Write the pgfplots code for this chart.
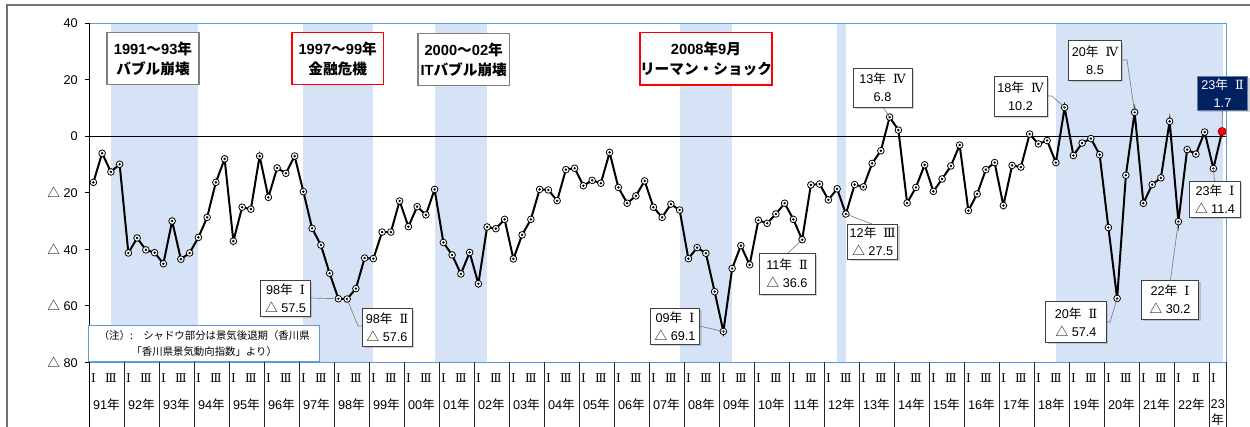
\documentclass[border=0pt]{standalone}
\usepackage{pgfplots}
\pgfplotsset{compat=1.18}
\usepackage{pgfplotstable}
\usepackage{fontspec}
\usetikzlibrary{shadows}
\setmainfont{Liberation Sans}
\newfontfamily\jp{Noto Sans CJK JP}
\newfontfamily\rn{DejaVu Serif}
\definecolor{recess}{RGB}{214,227,247}
\definecolor{pborder}{RGB}{91,155,213}
\definecolor{navy}{RGB}{0,32,96}
\definecolor{boxgray}{RGB}{128,128,128}
\newcommand{\nen}{{\jp 年}}
\newcommand{\tri}{{\jp △}}
\pgfplotstableread{
q v
0 -16.3
1 -6.0
2 -12.6
3 -9.9
4 -41.3
5 -36.0
6 -40.2
7 -41.2
8 -45.1
9 -30.0
10 -43.5
11 -41.3
12 -35.8
13 -28.7
14 -16.3
15 -8.0
16 -37.1
17 -25.1
18 -25.8
19 -7.0
20 -21.6
21 -11.2
22 -13.1
23 -7.0
24 -19.6
25 -32.6
26 -38.5
27 -48.5
28 -57.5
29 -57.6
30 -53.9
31 -43.1
32 -43.3
33 -33.9
34 -33.9
35 -22.9
36 -32.0
37 -24.9
38 -27.8
39 -18.8
40 -37.6
41 -42.0
42 -48.7
43 -41.1
44 -52.2
45 -32.1
46 -32.7
47 -29.4
48 -43.4
49 -34.9
50 -29.4
51 -18.8
52 -19.0
53 -22.8
54 -11.8
55 -11.3
56 -17.5
57 -15.6
58 -16.6
59 -5.7
60 -18.1
61 -23.7
62 -21.1
63 -15.8
64 -25.1
65 -28.7
66 -24.0
67 -26.1
68 -43.3
69 -39.4
70 -41.4
71 -55.0
72 -69.1
73 -46.8
74 -38.7
75 -45.5
76 -29.7
77 -30.8
78 -27.5
79 -23.7
80 -29.4
81 -36.6
82 -17.2
83 -16.9
84 -22.5
85 -18.6
86 -27.5
87 -17.1
88 -17.9
89 -9.6
90 -5.1
91 6.8
92 2.2
93 -23.6
94 -18.1
95 -10.1
96 -19.5
97 -15.1
98 -10.5
99 -3.1
100 -26.3
101 -20.4
102 -11.8
103 -9.3
104 -24.5
105 -10.3
106 -10.9
107 0.8
108 -2.7
109 -1.5
110 -9.3
111 10.2
112 -6.8
113 -2.4
114 -0.8
115 -6.5
116 -32.3
117 -57.4
118 -13.8
119 8.5
120 -23.7
121 -17.1
122 -14.7
123 5.3
124 -30.2
125 -4.7
126 -6.3
127 1.5
128 -11.4
129 1.7
}\ditable
\begin{document}
\begin{tikzpicture}
\useasboundingbox (-66.75pt,-48.525pt) rectangle (870.75pt,271.725pt);
\begin{axis}[
  at={(0pt,0pt)}, anchor=south west,
  scale only axis, width=853.125pt, height=254.25pt,
  xmin=-0.5, xmax=129.5, ymin=-80, ymax=40,
  axis line style={draw=none},
  xtick=\empty,
  ytick={-80,-60,-40,-20,0,20,40},
  yticklabels={\tri\ 80,\tri\ 60,\tri\ 40,\tri\ 20,0,20,40},
  ytick pos=left,
  tick align=outside,
  major tick length=3pt,
  ytick style={black, line width=0.75pt},
  yticklabel style={font=\fontsize{9.5}{11}\selectfont, anchor=east, xshift=-2pt},
  clip=false,
]
\fill[recess] (axis cs:2,-80) rectangle (axis cs:12,40);
\fill[recess] (axis cs:24,-80) rectangle (axis cs:32,40);
\fill[recess] (axis cs:39,-80) rectangle (axis cs:45,40);
\fill[recess] (axis cs:67,-80) rectangle (axis cs:73,40);
\fill[recess] (axis cs:85,-80) rectangle (axis cs:86,40);
\fill[recess] (axis cs:110,-80) rectangle (axis cs:129.1,40);
\draw[black, line width=0.75pt] (axis cs:-0.5,0) -- (axis cs:129.5,0);
\addplot[black, line width=1.5pt, mark=*, mark size=2.5pt,
  mark options={fill=white, draw=black, line width=0.6pt, solid}] table[x=q,y=v] {\ditable};
\addplot[only marks, mark=*, mark size=0.7pt, black] table[x=q,y=v] {\ditable};
\addplot[only marks, mark=*, mark size=3.1pt,
  mark options={fill=red, draw=red!60!black, line width=0.5pt}] coordinates {(129,1.7)};
\coordinate (p28) at (axis cs:28,-57.5);
\coordinate (p29) at (axis cs:29,-57.6);
\coordinate (p72) at (axis cs:72,-69.1);
\coordinate (p81) at (axis cs:81,-36.6);
\coordinate (p86) at (axis cs:86,-27.5);
\coordinate (p91) at (axis cs:91,6.8);
\coordinate (p111) at (axis cs:111,10.2);
\coordinate (p117) at (axis cs:117,-57.4);
\coordinate (p119) at (axis cs:119,8.5);
\coordinate (p124) at (axis cs:124,-30.2);
\coordinate (p128) at (axis cs:128,-11.4);
\coordinate (p129) at (axis cs:129,1.7);
\end{axis}
\begin{scope}[x=0.75pt,y=-0.75pt,shift={(-66.75pt,271.725pt)}]
% outer chart frame
\draw[black!55, line width=1pt] (7,470) -- (7,5) -- (1300,5);
% plot area border
\draw[pborder, line width=0.75pt] (89,362.3) rectangle (1226.5,23.3);
\draw[black, line width=0.75pt] (89,23.3) -- (89,427);
% category separators
\foreach \k in {1,...,32} \draw[black!85, line width=0.6pt] ({89+35*\k},362.3) -- ({89+35*\k},430);
\draw[black!85, line width=0.6pt] (1226.5,362.3) -- (1226.5,430);
% quarter labels
\foreach \k in {0,...,30} {
  \node[font=\rn\fontsize{9}{10}\selectfont] at ({89+35*\k+4.375},378) {Ⅰ};
  \node[font=\rn\fontsize{9}{10}\selectfont] at ({89+35*\k+21.875},378) {Ⅲ};
}
\node[font=\rn\fontsize{9}{10}\selectfont] at ({89+35*31+4.375},378) {Ⅰ};
\node[font=\rn\fontsize{9}{10}\selectfont] at ({89+35*31+21.875},378) {Ⅱ};
\node[font=\rn\fontsize{9}{10}\selectfont] at ({89+35*32+4.375},378) {Ⅰ};
% year labels
\foreach \yy [count=\k from 0] in {91,92,93,94,95,96,97,98,99,00,01,02,03,04,05,06,07,08,09,10,11,12,13,14,15,16,17,18,19,20,21,22}
  \node[font=\fontsize{9.5}{11}\selectfont] at ({89+35*\k+17.5},405) {\yy\nen};
\node[font=\fontsize{9.5}{11}\selectfont] at (1217.75,404) {23};
\node[font=\fontsize{9.5}{11}\selectfont] at (1217.75,420) {\nen};
% header boxes
\tikzset{hdr/.style={fill=white, line width=1.1pt, align=center, inner sep=0pt,
  font=\fontsize{11}{15}\selectfont\bfseries}}
\node[hdr, draw=boxgray, minimum width=69pt, minimum height=38.7pt] at (153,58.5)
  {1991{\jp ～}93\nen\\{\jp バブル崩壊}};
\node[hdr, draw=red, minimum width=68.5pt, minimum height=38.7pt] at (337.7,58.5)
  {1997{\jp ～}99\nen\\{\jp 金融危機}};
\node[hdr, draw=boxgray, minimum width=68.5pt, minimum height=39.3pt] at (463.7,59.5)
  {2000{\jp ～}02\nen\\IT{\jp バブル崩壊}};
\node[hdr, draw=red, minimum width=91.3pt, minimum height=39.2pt] at (706,58.8)
  {2008\nen 9{\jp 月}\\{\jp リーマン・ショック}};
% note box
\node[draw=pborder, line width=0.75pt, fill=white, minimum width=172.9pt, minimum height=27.2pt,
  inner sep=0pt, align=center, font=\jp\fontsize{7.8}{12}\selectfont] at (204.25,343.2)
  {（注）:　シャドウ部分は景気後退期（香川県\\「香川県景気動向指数」より）};
% leader lines
\tikzset{ldr/.style={gray, line width=0.5pt}}
\draw[ldr] (310,298) -- (p28);
\draw[ldr] (p29) -- (358,326) -- (362,326);
\draw[ldr] (699,326) -- (p72);
\draw[ldr] (788,253) -- (p81);
\draw[ldr] (p86) -- (872,224);
\draw[ldr] (883,107) -- (p91);
\draw[ldr] (1047,96) -- (1052,96) -- (p111);
\draw[ldr] (1121,60) -- (1127,60) -- (p119);
\draw[ldr] (1106,322) -- (1110,322) -- (p117);
\draw[ldr] (1170.5,280) -- (p124);
\draw[ldr] (1214.5,181) -- (p128);
\draw[ldr] (1222.5,110) -- (p129);
% annotation boxes
\tikzset{ann/.style={draw=black!75, line width=0.6pt, fill=white,
  drop shadow={shadow xshift=1.5pt, shadow yshift=-1.5pt, opacity=0.35},
  align=center, inner sep=0pt, font=\fontsize{9.5}{13.5}\selectfont}}
\node[ann, minimum width=37pt, minimum height=27pt] at (285.5,298) {98\nen\ \ {\rn Ⅰ}\\\tri\ 57.5};
\node[ann, minimum width=37.5pt, minimum height=28.5pt] at (387,327) {98\nen\ \ {\rn Ⅱ}\\\tri\ 57.6};
\node[ann, minimum width=37pt, minimum height=27pt] at (675,326) {09\nen\ \ {\rn Ⅰ}\\\tri\ 69.1};
\node[ann, minimum width=42pt, minimum height=30.8pt] at (787,273.5) {11\nen\ \ {\rn Ⅱ}\\\tri\ 36.6};
\node[ann, minimum width=37.5pt, minimum height=26.3pt] at (872.7,241.5) {12\nen\ \ {\rn Ⅲ}\\\tri\ 27.5};
\node[ann, minimum width=44.3pt, minimum height=29.3pt] at (882.5,87.5) {13\nen\ \ {\rn Ⅳ}\\6.8};
\node[ann, minimum width=39.8pt, minimum height=30pt] at (1020.5,96) {18\nen\ \ {\rn Ⅳ}\\10.2};
\node[ann, minimum width=39.5pt, minimum height=29.5pt] at (1095,60.3) {20\nen\ \ {\rn Ⅳ}\\8.5};
\node[ann, minimum width=45.5pt, minimum height=30.5pt] at (1076,322) {20\nen\ \ {\rn Ⅱ}\\\tri\ 57.4};
\node[ann, minimum width=42.8pt, minimum height=29.3pt] at (1170,299.5) {22\nen\ \ {\rn Ⅰ}\\\tri\ 30.2};
\node[ann, minimum width=38pt, minimum height=27pt] at (1215,199.3) {23\nen\ \ {\rn Ⅰ}\\\tri\ 11.4};
\node[ann, draw=navy!60!white, fill=navy, text=white, minimum width=37.8pt, minimum height=25.7pt] at (1222.5,93.2) {23\nen\ \ {\rn Ⅱ}\\1.7};
\end{scope}
\end{tikzpicture}
\end{document}
